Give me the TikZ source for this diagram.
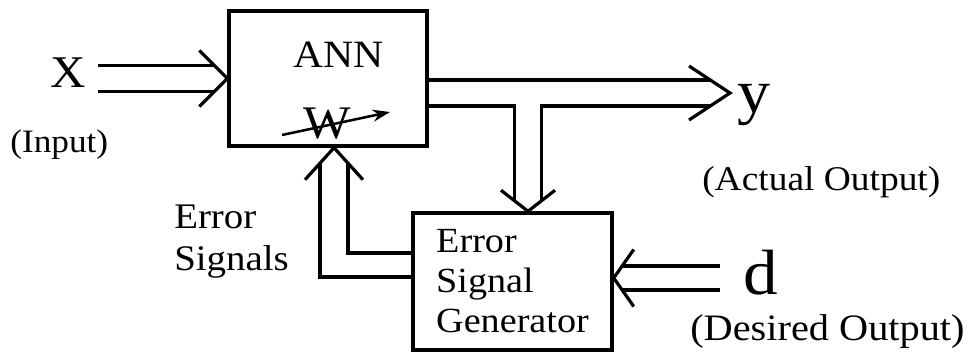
\documentclass[tikz,border=0pt]{standalone}
\usepackage{fontspec}
\setmainfont{Liberation Serif}[FakeStretch=1.08]
\usetikzlibrary{calc,arrows.meta}

\begin{document}
\begin{tikzpicture}[x=0.75pt,y=-0.75pt,
  wire/.style={line width=2.4pt,line join=miter},
  block/.style={draw,line width=2.6pt,inner sep=0pt},
  lbl/.style={inner sep=0pt,anchor=base west},
]
\useasboundingbox (0,0) rectangle (969,360);

% the two blocks
\node[block,minimum width=148.5pt,minimum height=101.25pt] (ann) at (328,78.5) {};
\node[block,minimum width=149.25pt,minimum height=102.75pt,align=left,
      font=\fontsize{26.5}{30}\selectfont] (esg) at (512.5,281.5) {Error\\Signal\\Generator};

% labels
\node[lbl,font=\fontsize{34}{34}\selectfont] (lblx) at (50,87) {X};
\node[lbl,font=\fontsize{24.5}{28}\selectfont] (lblin) at (10,152) {(Input)};
\node[lbl,font=\fontsize{29}{30}\selectfont] (lblann) at (293,68) {ANN};
\node[lbl,font=\fontsize{35}{35}\selectfont] (lblw) at (303,138) {W};
\node[lbl,font=\fontsize{46}{46}\selectfont] (lbly) at (737,112) {y};
\node[lbl,font=\fontsize{26}{30}\selectfont] (lblact) at (702,190) {(Actual Output)};
\node[lbl,font=\fontsize{48}{48}\selectfont] (lbld) at (743,294) {d};
\node[lbl,font=\fontsize{28}{30}\selectfont] (lbldes) at (690,340) {(Desired Output)};
\node[lbl,font=\fontsize{27}{31.5}\selectfont] (lblerr) at (174,228)
  {\begin{tabular}[t]{@{}l@{}}Error\\Signals\end{tabular}};

% adjustable weights arrow across W
\draw[line width=1.9pt,-{Stealth[length=13pt,width=9pt]}]
  ($(lblw.base west)+(-21,-3)$) -- ($(lblw.base west)+(87,-26)$);

% input X -> ANN
\coordinate (inTip) at (ann.west);
\draw[wire] ($(lblx.east |- inTip)+(12,-13)$) -- ($(inTip)+(-13,-13)$);
\draw[wire] ($(lblx.east |- inTip)+(12,13)$) -- ($(inTip)+(-13,13)$);
\draw[wire] ($(inTip)+(-28,-28)$) -- (inTip) -- ($(inTip)+(-28,28)$);

% output ANN -> y, with branch down to the error signal generator
\coordinate (outTip) at (730,93);
\coordinate (esgTip) at ($(esg.north)+(15.5,0)$);
\draw[wire] ($(ann.east)+(0,1.5)$) -- ($(outTip)+(-20,-13)$);
\draw[wire] ($(ann.east)+(0,27.5)$) -| ($(esgTip)+(-13.5,-10.5)$);
\draw[wire] ($(esgTip)+(13.5,-10.5)$) |- ($(outTip)+(-20,13)$);
\draw[wire] ($(outTip)+(-41,-27)$) -- (outTip) -- ($(outTip)+(-41,27)$);
\draw[wire] ($(esgTip)+(-27,-21)$) -- (esgTip) -- ($(esgTip)+(27,-21)$);

% error signals fed back to the ANN
\coordinate (retTip) at ($(ann.south)+(6,0)$);
\draw[wire] ($(esg.west)+(0,-4.5)$) -| ($(retTip)+(-14,15.5)$);
\draw[wire] ($(esg.west)+(0,-28.5)$) -| ($(retTip)+(14,15.5)$);
\draw[wire] ($(retTip)+(-29,32)$) -- (retTip) -- ($(retTip)+(29,32)$);

% desired output d -> error signal generator
\coordinate (dTip) at ($(esg.east)+(0,-3.5)$);
\draw[wire] ($(lbld.west |- dTip)+(-23,-12)$) -- ($(dTip)+(8.5,-12)$);
\draw[wire] ($(lbld.west |- dTip)+(-23,12)$) -- ($(dTip)+(8.5,12)$);
\draw[wire] ($(dTip)+(20,-28.5)$) -- (dTip) -- ($(dTip)+(20,28.5)$);
\end{tikzpicture}
\end{document}
